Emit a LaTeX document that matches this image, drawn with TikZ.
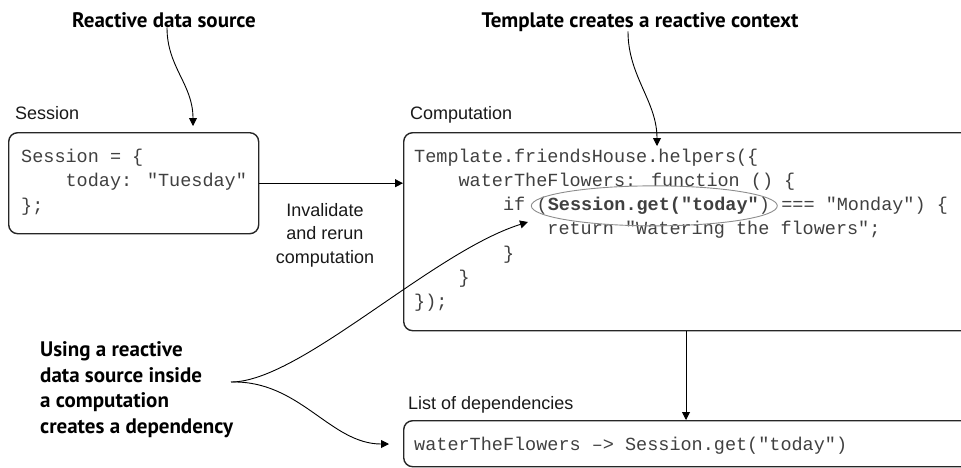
\documentclass[tikz,border=0pt]{standalone}
\usepackage{fontspec}
\setmainfont{Liberation Sans}
\newfontfamily\codefont{Liberation Mono}
\newfontfamily\annotfont{PT Sans}
\usetikzlibrary{arrows.meta}
\begin{document}
\begin{tikzpicture}[x=1pt,y=-1pt,
  annot/.style={font=\annotfont\bfseries\fontsize{21}{25.5}\selectfont, inner sep=0pt, text=black},
  lbl/.style={font=\fontsize{18}{23.5}\selectfont, inner sep=0pt, text=black!90},
  code/.style={font=\codefont\fontsize{18.5}{24.3}\selectfont, text=black!75, inner sep=0pt, anchor=base west},
  box/.style={draw=black!85, line width=1.4pt, rounded corners=9pt, anchor=north west, inner sep=0pt},
  arr/.style={-{Triangle[length=8pt,width=8pt]}, line width=0.9pt, draw=black},
  hilite/.style={draw=black!45, line width=0.9pt},
]
\path[use as bounding box] (0,0) rectangle (961,467);
\clip (0,0) rectangle (961,467);

% top annotations
\node[annot, anchor=base] (rds) at (164,27) {Reactive data source};
\node[annot, anchor=base] (trc) at (640,27) {Template creates a reactive context};

% labels
\node[lbl, anchor=base west] (slbl) at (15,119) {Session};
\node[lbl, anchor=base west] (clbl) at (410,119) {Computation};
\node[lbl, anchor=base west] (llbl) at (408,409) {List of dependencies};

% boxes
\node[box, minimum width=250pt, minimum height=101pt] (sess) at (8,132) {};
\node[box, minimum width=580pt, minimum height=198pt] (comp) at (403,132) {};
\node[box, minimum width=580pt, minimum height=46pt] (list) at (403,420) {};

% session code
\node[code] (s1) at (21,162) {Session = \{};
\node[code] (s2) at (21,186.8) {~~~~today: "Tuesday"};
\node[code] (s3) at (21,211.6) {\};};

% computation code
\node[code] (c1) at (414,162) {Template.friendsHouse.helpers(\{};
\node[code] (c2) at (414,186.3) {~~~~waterTheFlowers: function () \{};
\node[code] (c3a) at (414,210.6) {~~~~~~~~if~\null};
\node[code] (c3b) at (c3a.base east) {(\textbf{Session.get("today"})};
\node[code] (c3c) at (c3b.base east) {~=== "Monday") \{};
\node[code] (c4) at (414,234.9) {~~~~~~~~~~~~return "Watering the flowers";};
\node[code] (c5) at (414,259.2) {~~~~~~~~\}};
\node[code] (c6) at (414,283.5) {~~~~\}};
\node[code] (c7) at (414,307.8) {\});};

\draw[hilite] ([xshift=1pt]c3b.center) ellipse [x radius=123, y radius=20];

% dependency list
\node[code] (l1) at (414,450) {waterTheFlowers –> Session.get("today")};

% invalidate label
\node[lbl, align=center, anchor=north] (inv) at (325,203) {Invalidate\\and rerun\\computation};

% left annotation
\node[annot, align=left, anchor=north west] (use) at (40,341.5) {Using a reactive\\data source inside\\a computation\\creates a dependency};

% connector endpoints
\coordinate (rdsEnd) at (193,126);
\coordinate (trcEnd) at (657,146);
\coordinate (fork) at (231,382);
\coordinate (uEnd) at (528,222);
\coordinate (lEnd) at (389,444);
\coordinate (vx) at (686,0);

% connectors
\draw[arr] ([xshift=3pt]rds.south) .. controls +(0,40) and +(0,-42) .. (rdsEnd);
\draw[arr] ([xshift=-12pt]trc.south) .. controls +(0,45) and +(0,-45) .. (trcEnd);
\draw[arr] (sess.east) -- (sess.east -| comp.west);
\draw[arr] (vx |- comp.south) -- (vx |- list.north);
\draw[arr] (fork) .. controls (300,382) and (432,252) .. (uEnd);
\draw[arr] (fork) .. controls (300,380) and (330,444) .. (lEnd);
\end{tikzpicture}
\end{document}
